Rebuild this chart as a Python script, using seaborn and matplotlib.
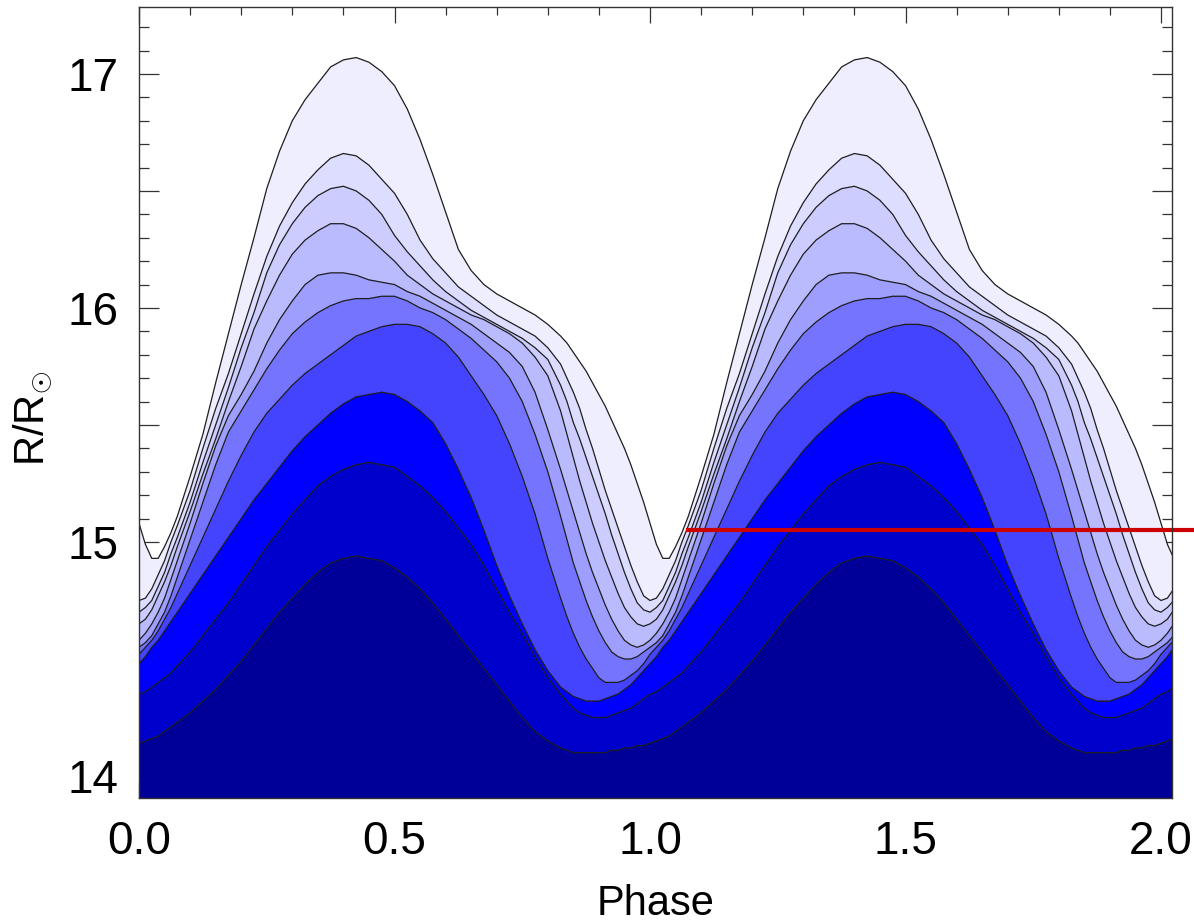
import numpy as np
import pandas as pd
import matplotlib
matplotlib.use("Agg")
import matplotlib.pyplot as plt
from matplotlib.ticker import MultipleLocator, FuncFormatter
import seaborn as sns

# Pulsation phase over one cycle (finer steps around the minimum radius)
phase = np.concatenate([np.arange(7) * 0.0125,
                        0.1 + np.arange(30) * 0.025,
                        0.8375 + np.arange(14) * 0.0125])

# Radius of each mass shell (R / R_sun), outermost first
r_shell_1 = [15.08, 14.99, 14.93, 14.93, 14.98, 15.04, 15.11,
             15.28, 15.46, 15.68, 15.89, 16.10, 16.30, 16.51, 16.67, 16.80, 16.89,
             16.96, 17.03, 17.06, 17.07, 17.05, 17.01, 16.95, 16.85, 16.72, 16.57,
             16.41, 16.25, 16.16, 16.10, 16.06, 16.03, 16.00, 15.97, 15.93, 15.88,
             15.85, 15.81, 15.77, 15.73, 15.68, 15.63, 15.58, 15.52, 15.46, 15.40,
             15.33, 15.25, 15.17, 15.08]
r_shell_2 = [14.75, 14.76, 14.80, 14.86, 14.92, 15.00, 15.07,
             15.22, 15.40, 15.57, 15.72, 15.89, 16.06, 16.22, 16.35, 16.45, 16.53,
             16.59, 16.64, 16.66, 16.65, 16.61, 16.55, 16.49, 16.40, 16.29, 16.21,
             16.15, 16.09, 16.05, 16.01, 15.97, 15.94, 15.91, 15.88, 15.83, 15.76,
             15.70, 15.64, 15.57, 15.48, 15.40, 15.31, 15.22, 15.14, 15.06, 14.98,
             14.90, 14.83, 14.77, 14.75]
r_shell_3 = [14.70, 14.72, 14.75, 14.81, 14.87, 14.95, 15.02,
             15.17, 15.34, 15.50, 15.66, 15.83, 15.98, 16.15, 16.27, 16.36, 16.43,
             16.48, 16.51, 16.52, 16.50, 16.46, 16.40, 16.31, 16.24, 16.18, 16.12,
             16.07, 16.03, 15.99, 15.96, 15.93, 15.90, 15.87, 15.83, 15.78, 15.67,
             15.60, 15.51, 15.44, 15.36, 15.28, 15.20, 15.12, 15.03, 14.95, 14.87,
             14.80, 14.74, 14.71, 14.70]
r_shell_4 = [14.65, 14.67, 14.71, 14.77, 14.83, 14.90, 14.98,
             15.13, 15.29, 15.44, 15.60, 15.75, 15.91, 16.03, 16.14, 16.23, 16.29,
             16.33, 16.36, 16.36, 16.34, 16.30, 16.25, 16.20, 16.14, 16.10, 16.06,
             16.03, 16.00, 15.97, 15.95, 15.92, 15.89, 15.85, 15.79, 15.71, 15.56,
             15.46, 15.36, 15.26, 15.17, 15.08, 15.00, 14.92, 14.85, 14.78, 14.72,
             14.68, 14.65, 14.64, 14.65]
r_shell_5 = [14.58, 14.61, 14.65, 14.70, 14.76, 14.84, 14.92,
             15.08, 15.25, 15.41, 15.54, 15.63, 15.73, 15.85, 15.95, 16.03, 16.10,
             16.14, 16.15, 16.15, 16.14, 16.12, 16.11, 16.10, 16.07, 16.05, 16.02,
             15.99, 15.96, 15.93, 15.89, 15.85, 15.81, 15.75, 15.64, 15.48, 15.31,
             15.22, 15.13, 15.04, 14.95, 14.87, 14.80, 14.73, 14.67, 14.62, 14.58,
             14.56, 14.55, 14.56, 14.58]
r_shell_6 = [14.55, 14.57, 14.60, 14.65, 14.70, 14.77, 14.85,
             15.01, 15.17, 15.33, 15.47, 15.56, 15.65, 15.74, 15.82, 15.89, 15.94,
             15.98, 16.01, 16.03, 16.04, 16.04, 16.05, 16.05, 16.03, 16.00, 15.98,
             15.95, 15.91, 15.87, 15.82, 15.77, 15.70, 15.60, 15.46, 15.30, 15.11,
             15.01, 14.91, 14.83, 14.75, 14.68, 14.62, 14.57, 14.53, 14.51, 14.50,
             14.50, 14.51, 14.53, 14.55]
r_shell_7 = [14.52, 14.55, 14.58, 14.62, 14.67, 14.72, 14.78,
             14.90, 15.02, 15.14, 15.26, 15.37, 15.47, 15.55, 15.61, 15.67, 15.72,
             15.76, 15.80, 15.84, 15.88, 15.90, 15.92, 15.93, 15.93, 15.92, 15.89,
             15.85, 15.79, 15.71, 15.63, 15.54, 15.42, 15.28, 15.12, 14.93, 14.76,
             14.68, 14.61, 14.55, 14.50, 14.46, 14.42, 14.40, 14.40, 14.40, 14.41,
             14.43, 14.45, 14.48, 14.52]
r_shell_8 = [14.48, 14.51, 14.55, 14.58, 14.62, 14.66, 14.70,
             14.78, 14.86, 14.94, 15.02, 15.10, 15.18, 15.25, 15.32, 15.39, 15.45,
             15.50, 15.55, 15.59, 15.62, 15.63, 15.64, 15.63, 15.60, 15.56, 15.51,
             15.42, 15.31, 15.19, 15.05, 14.90, 14.77, 14.65, 14.54, 14.45, 14.38,
             14.36, 14.34, 14.33, 14.32, 14.32, 14.32, 14.33, 14.34, 14.35, 14.37,
             14.39, 14.42, 14.45, 14.48]
r_shell_9 = [14.35, 14.36, 14.38, 14.40, 14.42, 14.44, 14.47,
             14.53, 14.60, 14.67, 14.74, 14.82, 14.90, 14.98, 15.05, 15.12, 15.18,
             15.24, 15.28, 15.31, 15.33, 15.34, 15.33, 15.32, 15.28, 15.24, 15.19,
             15.13, 15.06, 14.99, 14.90, 14.80, 14.70, 14.61, 14.51, 14.42, 14.35,
             14.32, 14.29, 14.27, 14.26, 14.25, 14.25, 14.25, 14.26, 14.27, 14.28,
             14.29, 14.31, 14.33, 14.35]
r_shell_10 = [14.14, 14.15, 14.16, 14.17, 14.19, 14.21, 14.23,
              14.27, 14.32, 14.37, 14.43, 14.49, 14.56, 14.63, 14.70, 14.76, 14.82,
              14.87, 14.91, 14.93, 14.94, 14.93, 14.92, 14.89, 14.85, 14.80, 14.74,
              14.67, 14.60, 14.53, 14.46, 14.39, 14.32, 14.25, 14.19, 14.15, 14.12,
              14.11, 14.10, 14.10, 14.10, 14.10, 14.10, 14.10, 14.11, 14.11, 14.12,
              14.12, 14.13, 14.13, 14.14]

shells = [r_shell_1, r_shell_2, r_shell_3, r_shell_4, r_shell_5,
          r_shell_6, r_shell_7, r_shell_8, r_shell_9, r_shell_10]
shell_colors = ["#EEEEFF", "#DDDDFF", "#CCCCFF", "#BABAFF", "#9E9EFF",
                "#7474FF", "#4444FF", "#0000FF", "#0000CC", "#000099"]

# Reference radius marked in red
red_level = 15.05
red_start = 1.07

sns.set_style("ticks")
plt.rcParams["font.family"] = ["Liberation Sans", "DejaVu Sans"]
plt.rcParams["mathtext.fontset"] = "custom"
plt.rcParams["mathtext.rm"] = "Liberation Sans"
plt.rcParams["mathtext.it"] = "Liberation Sans:italic"

W, H = 1194, 923
fig = plt.figure(figsize=(W / 100, H / 100), dpi=100)
ax = fig.add_axes([139 / W, 1 - 798 / H, (1172 - 139) / W, (798 - 7) / H])

# repeat the cycle so the curves run across the whole phase window
n_cycles = 3
x_all = np.concatenate([phase[:-1] + k for k in range(n_cycles)] + [[float(n_cycles)]])


def unfold(vals):
    v = np.asarray(vals, dtype=float)
    return np.concatenate([v[:-1]] * n_cycles + [v[-1:]])


frames = []
for i, (vals, col) in enumerate(zip(shells, shell_colors)):
    r = unfold(vals)
    ax.fill_between(x_all, r, 13.0, color=col, linewidth=0, zorder=1 + i)
    frames.append(pd.DataFrame({"phase": x_all, "R": r, "shell": f"s{i + 1}"}))
df = pd.concat(frames, ignore_index=True)

sns.lineplot(data=df, x="phase", y="R", hue="shell", units="shell", estimator=None,
             palette=["#1e1e1e"] * len(shells), legend=False, sort=False,
             linewidth=0.9, ax=ax, zorder=20)

ax.plot([red_start, 2.08], [red_level, red_level], color="#CC0000", lw=3.0,
        solid_capstyle="butt", clip_on=False, zorder=30)

ax.set_xlim(0.0, 2.0215)
ax.set_ylim(13.906, 17.286)

ax.xaxis.set_major_locator(MultipleLocator(0.5))
ax.xaxis.set_minor_locator(MultipleLocator(0.1))
ax.yaxis.set_major_locator(MultipleLocator(0.5))
ax.yaxis.set_minor_locator(MultipleLocator(0.1))
ax.xaxis.set_major_formatter(FuncFormatter(lambda v, p: f"{v:.1f}"))
ax.yaxis.set_major_formatter(
    FuncFormatter(lambda v, p: f"{int(round(v))}" if abs(v - round(v)) < 1e-6 else ""))

ax.tick_params(which="both", direction="in", top=True, right=True,
               color="#333333", width=0.9, labelcolor="black")
ax.tick_params(axis="x", which="major", length=11.5, labelsize=33, pad=15.5)
ax.tick_params(axis="x", which="minor", length=6)
ax.tick_params(axis="y", which="major", length=14.5, labelsize=33, pad=15)
ax.tick_params(axis="y", which="minor", length=7.2)

for s in ax.spines.values():
    s.set_color("#333333")
    s.set_linewidth(1.0)
    s.set_zorder(40)

ax.set_xlabel("Phase", fontsize=30, labelpad=14.5, color="black")
ax.set_ylabel(r"R/R$_{\odot}$", fontsize=30, color="black")
ax.yaxis.set_label_coords(-0.082, 0.48)

fig.savefig("out.png", dpi=100)
